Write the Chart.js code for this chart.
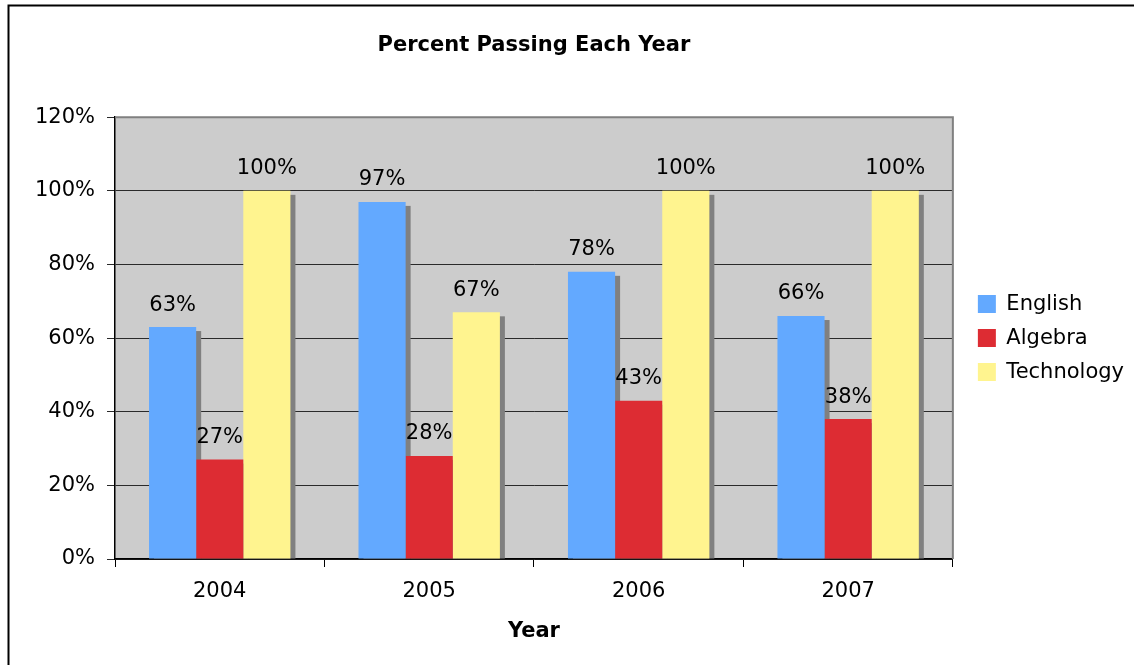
<!DOCTYPE html>
<html>
<head>
<meta charset="utf-8">
<script src="https://cdn.jsdelivr.net/npm/chart.js@4"></script>
<style>
  html, body { margin: 0; padding: 0; background: #fff; overflow: hidden; }
  #wrap { width: 1134px; height: 665px; position: relative; }
</style>
</head>
<body>
<div id="wrap"><canvas id="mychart"></canvas></div>
<script>
// values (percent)
const years = ['2004', '2005', '2006', '2007'];
const english = [63, 97, 78, 66];
const algebra = [27, 28, 43, 38];
const technology = [100, 67, 100, 100];
const yTicks = [0, 20, 40, 60, 80, 100, 120];

Chart.defaults.font.family = "'DejaVu Sans', Verdana, sans-serif";
Chart.defaults.color = '#000';

// gray plot area, outer frame (only left and top edges are inside the picture)
const frame = {
  id: 'frame',
  beforeDraw(chart) {
    const { ctx, chartArea: a } = chart;
    ctx.save();
    ctx.fillStyle = '#fff';
    ctx.fillRect(0, 0, chart.width, chart.height);
    ctx.fillStyle = '#cccccc';
    ctx.fillRect(a.left, a.top, a.right - a.left, a.bottom - a.top);
    ctx.strokeStyle = '#000';
    ctx.lineWidth = 2;
    ctx.beginPath();
    ctx.moveTo(8.5, chart.height);
    ctx.lineTo(8.5, 5.5);
    ctx.lineTo(chart.width, 5.5);
    ctx.stroke();
    ctx.restore();
  },
  afterDatasetsDraw(chart) {
    const { ctx, chartArea: a } = chart;
    ctx.save();
    ctx.strokeStyle = '#808080';
    ctx.lineWidth = 2;
    ctx.beginPath();
    ctx.moveTo(a.left, a.top);
    ctx.lineTo(a.right, a.top);
    ctx.lineTo(a.right, a.bottom);
    ctx.stroke();
    ctx.restore();
  }
};

// excel style drop shadow behind each bar
const barShadow = {
  id: 'barShadow',
  beforeDatasetsDraw(chart) {
    const { ctx, chartArea: a } = chart;
    ctx.save();
    ctx.beginPath();
    ctx.rect(a.left, a.top, a.right - a.left, a.bottom - a.top);
    ctx.clip();
    ctx.fillStyle = '#808080';
    chart.data.datasets.forEach((ds, i) => {
      chart.getDatasetMeta(i).data.forEach(bar => {
        const p = bar.getProps(['x', 'y', 'base', 'width'], true);
        ctx.fillRect(p.x - p.width / 2 + 5, p.y + 4, p.width, p.base - p.y - 4);
      });
    });
    ctx.restore();
  }
};

// value labels above bars
const valueLabels = {
  id: 'valueLabels',
  afterDatasetsDraw(chart) {
    const { ctx } = chart;
    ctx.save();
    ctx.font = "21px 'DejaVu Sans'";
    ctx.fillStyle = '#000';
    ctx.textAlign = 'center';
    ctx.textBaseline = 'middle';
    chart.data.datasets.forEach((ds, i) => {
      chart.getDatasetMeta(i).data.forEach((bar, j) => {
        ctx.fillText(ds.data[j] + '%', bar.x, bar.y - 22);
      });
    });
    ctx.restore();
  }
};

new Chart(document.getElementById('mychart'), {
  type: 'bar',
  data: {
    labels: years,
    datasets: [
      { label: 'English', data: english, backgroundColor: '#63a9ff' },
      { label: 'Algebra', data: algebra, backgroundColor: '#dd2c33' },
      { label: 'Technology', data: technology, backgroundColor: '#fff48f' }
    ]
  },
  options: {
    responsive: true,
    maintainAspectRatio: false,
    animation: false,
    layout: { padding: 0 },
    datasets: {
      bar: { categoryPercentage: 0.675, barPercentage: 1, borderWidth: 0 }
    },
    plugins: {
      tooltip: { enabled: false },
      title: {
        display: true,
        text: 'Percent Passing Each Year',
        fullSize: false,
        font: { size: 21, weight: 'bold' },
        padding: { top: 33, bottom: 59 }
      },
      legend: {
        position: 'right',
        fullSize: false,
        maxWidth: 172,
        labels: {
          boxWidth: 18,
          boxHeight: 18,
          padding: 13,
          font: { size: 21 }
        }
      }
    },
    scales: {
      x: {
        grid: { drawOnChartArea: false, drawTicks: true, tickLength: 8, color: '#000' },
        border: { color: '#000', width: 1.5 },
        ticks: { font: { size: 21 }, padding: 12 },
        title: {
          display: true,
          text: 'Year',
          font: { size: 21, weight: 'bold' },
          padding: { top: 0, bottom: 21 }
        },
        afterFit: s => { s.height = 106; }
      },
      y: {
        min: 0,
        max: 120,
        afterBuildTicks: s => { s.ticks = yTicks.map(v => ({ value: v })); },
        grid: { color: '#2a2a2a', tickLength: 8, lineWidth: 1 },
        border: { color: '#000', width: 1.5 },
        ticks: {
          font: { size: 21 },
          padding: 12,
          callback: v => v + '%'
        },
        afterFit: s => { s.width = 115; }
      },
      gap: {
        type: 'linear',
        position: 'right',
        display: true,
        grid: { display: false },
        border: { display: false },
        ticks: { display: false },
        afterFit: s => { s.width = 12; }
      }
    }
  },
  plugins: [frame, barShadow, valueLabels]
});
</script>
</body>
</html>
